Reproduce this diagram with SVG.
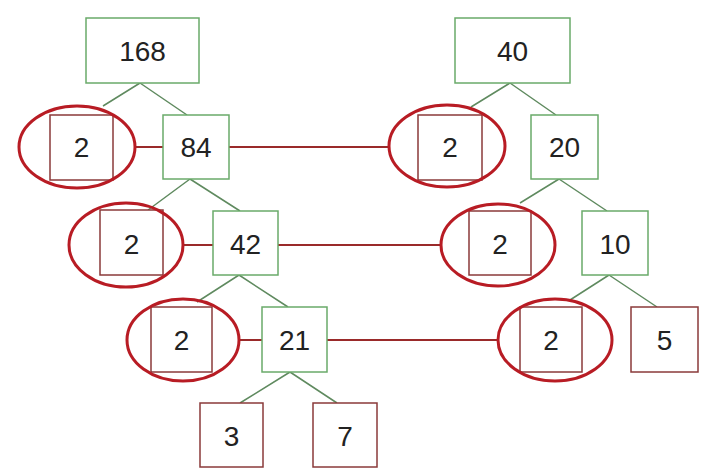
<svg xmlns="http://www.w3.org/2000/svg" width="708" height="472" viewBox="0 0 708 472">
<style>
.g{fill:#fff;stroke:#6aaa6a;stroke-width:1.5}
.r{fill:#fff;stroke:#8a3a3a;stroke-width:1.5}
.e{fill:none;stroke:#b81c24;stroke-width:3}
.t{font-family:"Liberation Sans",Arial,sans-serif;font-size:28px;fill:#222;text-anchor:middle}
.br{stroke:#5f8a5f;stroke-width:1.5;fill:none}
.h{stroke:#9a2a2a;stroke-width:2;fill:none}
</style>
<rect width="708" height="472" fill="#fff"/>
<g id="connectors">
<path class="br" d="M140 83L103 106M140 83L187 115"/>
<path class="br" d="M190 179L148 210M190 179L240 211"/>
<path class="br" d="M239 275L197 302M239 275L288 307"/>
<path class="br" d="M290 372L240 403M290 372L337 403"/>
<path class="br" d="M510 83L471 107M510 83L556 115"/>
<path class="br" d="M559 179L520 203M559 179L607 211"/>
<path class="br" d="M609 275L570 300M609 275L657 307"/>
<path class="h" d="M135 147H163M229 147H389"/>
<path class="h" d="M183 245H213M278 245H441"/>
<path class="h" d="M239 340H262M327 340H498"/>
</g>
<g id="n168"><rect class="g" x="86" y="18" width="113" height="65"/><text class="t" x="142.5" y="61">168</text></g>
<g id="n84"><rect class="g" x="163" y="115" width="66" height="64"/><text class="t" x="196" y="157">84</text></g>
<g id="n42"><rect class="g" x="213" y="211" width="65" height="64"/><text class="t" x="245.5" y="254">42</text></g>
<g id="n21"><rect class="g" x="262" y="307" width="65" height="65"/><text class="t" x="294.5" y="350">21</text></g>
<g id="n3"><rect class="r" x="200" y="403" width="63" height="64"/><text class="t" x="231.5" y="446">3</text></g>
<g id="n7"><rect class="r" x="313" y="403" width="64" height="64"/><text class="t" x="345" y="446">7</text></g>
<g id="l2a"><rect class="r" x="50" y="115" width="63" height="65"/><text class="t" x="81.5" y="157">2</text><ellipse class="e" cx="77" cy="147" rx="58" ry="41"/></g>
<g id="l2b"><rect class="r" x="100" y="210" width="63" height="65"/><text class="t" x="131.5" y="254">2</text><ellipse class="e" cx="126" cy="245" rx="57" ry="42"/></g>
<g id="l2c"><rect class="r" x="151" y="307" width="61" height="65"/><text class="t" x="181.5" y="350">2</text><ellipse class="e" cx="183" cy="340" rx="56" ry="41"/></g>
<g id="n40"><rect class="g" x="455" y="18" width="115" height="65"/><text class="t" x="512.5" y="61">40</text></g>
<g id="n20"><rect class="g" x="531" y="115" width="67" height="64"/><text class="t" x="564.5" y="157">20</text></g>
<g id="n10"><rect class="g" x="582" y="211" width="66" height="64"/><text class="t" x="615" y="254">10</text></g>
<g id="n5"><rect class="r" x="631" y="307" width="67" height="65"/><text class="t" x="664.5" y="350">5</text></g>
<g id="r2a"><rect class="r" x="418" y="115" width="64" height="65"/><text class="t" x="450" y="157">2</text><ellipse class="e" cx="447" cy="146" rx="58" ry="41"/></g>
<g id="r2b"><rect class="r" x="469" y="211" width="62" height="64"/><text class="t" x="500" y="254">2</text><ellipse class="e" cx="498" cy="245" rx="57" ry="41"/></g>
<g id="r2c"><rect class="r" x="520" y="307" width="62" height="65"/><text class="t" x="551" y="350">2</text><ellipse class="e" cx="555" cy="340" rx="57" ry="41"/></g>
</svg>
